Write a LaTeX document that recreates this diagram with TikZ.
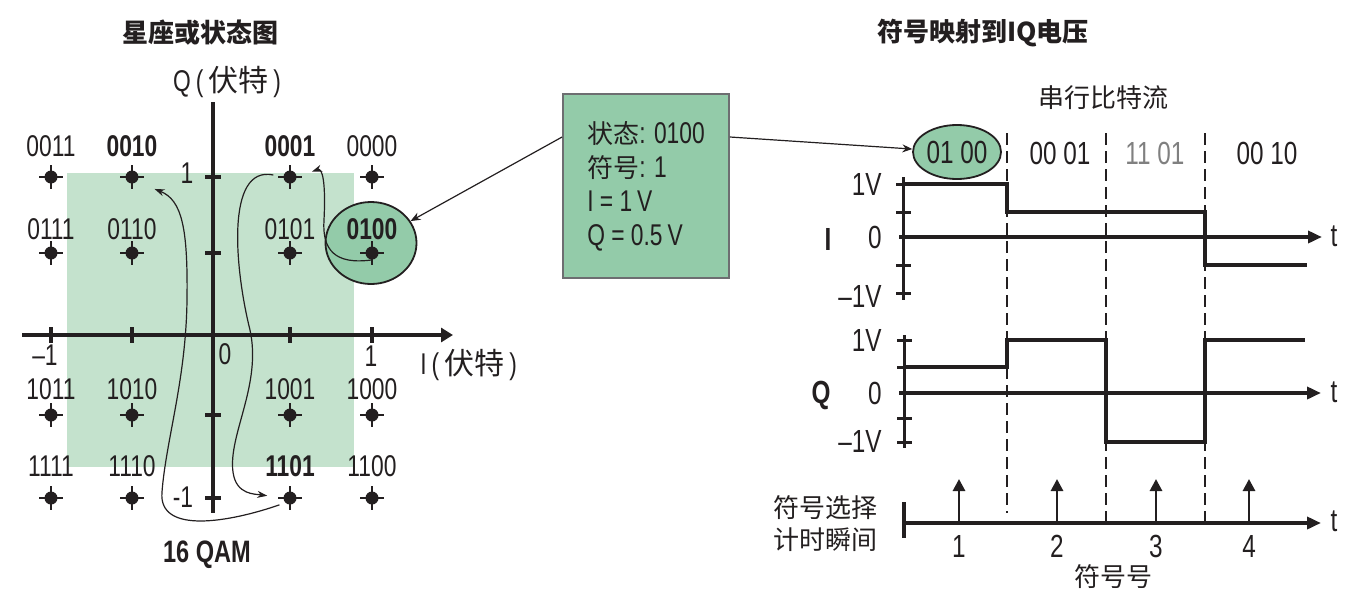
\documentclass[tikz,border=0pt]{standalone}
\usepackage{fontspec}
\setmainfont{Liberation Sans}[FakeStretch=0.76]
\newfontfamily\cjk{Noto Sans CJK SC}
\usetikzlibrary{arrows.meta,positioning,shapes.geometric}
\definecolor{qamLight}{HTML}{C4E2CD}
\definecolor{qamDark}{HTML}{93CBA9}
\definecolor{qamInk}{HTML}{231F20}
\definecolor{qamGrey}{HTML}{6D6E71}

\begin{document}
\begin{tikzpicture}[x=0.5pt, y=-0.5pt,
          every node/.style={text=qamInk, inner sep=0pt},
          lbl/.style={font=\fontsize{15}{17}\selectfont},
          vlbl/.style={font=\fontsize{16}{18}\selectfont},
          zh/.style={font=\cjk\fontsize{13}{16}\selectfont},
          ttl/.style={font=\cjk\bfseries\fontsize{13}{15}\selectfont},
          dot/.style={circle, fill=qamInk, minimum size=6.5pt},
          crossline/.style={draw=qamInk, line width=1pt},
          axisline/.style={draw=qamInk, line width=2pt},
          tickmark/.style={draw=qamInk, line width=1.5pt},
          sig/.style={draw=qamInk, line width=2.4pt},
          taxis/.style={draw=qamInk, line width=1.8pt, -{Triangle[length=7pt,width=6pt]}},
          arr/.style={draw=qamInk, line width=0.6pt, -{Stealth[length=5pt,width=4pt]}},
          curv/.style={draw=qamInk, line width=0.6pt, -{Stealth[length=5pt,width=3.5pt]}},
          dashsep/.style={draw=qamInk, line width=1.2pt, dash pattern=on 6pt off 3pt},
          impulse/.style={draw=qamInk, line width=1.4pt, -{Triangle[length=6pt,width=6pt]}}]
        \useasboundingbox (0,0) rectangle (1355,595);
        \fill[qamLight] (67,173) rectangle (354,467);
        \node[ttl] (t1) at (200,33) {星座或状态图};
        \node[ttl] (t2) at (983,33) {符号映射到IQ电压};
        \coordinate (qtop) at (213,102);
        \coordinate (qbot) at (213,513);
        \coordinate (ileft) at (22,335);
        \coordinate (iright) at (453,335);
        \draw[axisline] (qtop) -- (qbot);
        \draw[axisline, -{Triangle[length=6pt,width=7pt]}] (ileft) -- (iright);
        \foreach \x in {51,132,290,372}
          \draw[tickmark, line width=2pt] (\x,327) -- (\x,343);
        \foreach \y in {177,253,415,498}
          \draw[tickmark, line width=2pt] (205,\y) -- (221,\y);
        \node[lbl] (qlab) at (227,82) {Q\,(\,{\cjk 伏特}\,)};
        \node[lbl, anchor=west] (ilab) at (420,365) {I\,(\,{\cjk 伏特}\,)};
        \node[lbl] (q1) at (187,173) {1};
        \node[lbl] (qm1) at (183,497) {-1};
        \node[lbl] (o0) at (225,354) {0};
        \node[lbl] (im1) at (45,355) {–1};
        \node[lbl] (ip1) at (371,356) {1};
        \node[ellipse, draw=qamInk, line width=0.9pt, fill=qamDark,
          minimum width=45.5pt, minimum height=41pt] (bell) at (371,243) {};
        \foreach \c/\x/\y/\d/\f in {0011/51/177/6.5/\relax, 0010/132/177/6.5/\bfseries,
            0001/290/177/6.5/\bfseries, 0000/372/177/6.5/\relax,
            0111/51/253/3/\relax, 0110/132/253/3/\relax,
            0101/290/253/3/\relax, 0100/372/253/3/\bfseries,
            1011/51/415/4/\relax, 1010/132/415/4/\relax,
            1001/290/415/4/\relax, 1000/372/415/4/\relax,
            1111/51/498/7/\relax, 1110/132/498/7/\relax,
            1101/290/498/7/\bfseries, 1100/372/498/7/\relax} {
          \node[dot] (p\c) at (\x,\y) {};
          \draw[crossline] (p\c.center) +(-12,0) -- +(12,0)
            (p\c.center) +(0,-12) -- +(0,12);
          \node[lbl, above=\d pt of p\c] (l\c) {\f\c};
        }
        \node[font=\bfseries\fontsize{15.5}{17}\selectfont] (qam) at (207,555) {16 QAM};
        \draw[curv, shorten >=8pt] (p0100.south) .. controls (335,265) and (322,250) .. (324,220)
          .. controls (326,180) and (322,168) .. (p0001.east);
        \draw[curv, shorten <=5pt, shorten >=8pt] (p0001.west) .. controls (225,165) and (235,270) .. (250,330)
          .. controls (262,385) and (228,435) .. (233,472)
          .. controls (236,495) and (255,494) .. (p1101.west);
        \draw[curv, shorten <=3pt, shorten >=9.5pt] (p1101.south west) .. controls (230,522) and (158,535) .. (162,492)
          .. controls (166,440) and (186,380) .. (187,300)
          .. controls (188,228) and (182,200) .. (p0010.south east);
        \node[draw=qamGrey, line width=0.9pt, fill=qamDark, minimum width=83pt, minimum height=92pt,
          align=left, font=\fontsize{15}{17}\selectfont]
          (box) at (646,186) {{\cjk\fontsize{13}{17}\selectfont 状态}: 0100\\{\cjk\fontsize{13}{17}\selectfont 符号}: 1\\I = 1\,V\\Q = 0.5\,V};
        \node[ellipse, draw=qamInk, line width=0.9pt, fill=qamDark,
          minimum width=44pt, minimum height=27pt, vlbl] (sell) at (957,152) {01 00};
        \draw[arr] ([yshift=24.5pt]box.west) -- (bell);
        \draw[arr] ([yshift=24.5pt]box.east) -- (sell);
        \node[zh] (stream) at (1103,98) {串行比特流};
        \node[vlbl] (b2) at (1060,153) {00 01};
        \node[vlbl, text=gray] (b3) at (1155,153) {11 01};
        \node[vlbl] (b4) at (1267,153) {00 10};
        \foreach \x/\b [count=\k] in {1007/513, 1106/523, 1205/523} {
          \coordinate (d\k t) at (\x,133);
          \coordinate (d\k b) at (\x,\b);
          \draw[dashsep] (d\k t) -- (d\k b);
        }
        \coordinate (iax1) at (903,177);
        \coordinate (iax2) at (903,300);
        \coordinate (it1) at (899,237);
        \coordinate (it2) at (1322,237);
        \draw[tickmark] (iax1) -- (iax2);
        \foreach \y in {184,212,265,293}
          \draw[tickmark] (896,\y) -- (911,\y);
        \draw[taxis] (it1) -- (it2);
        \draw[sig] (903,184) -- (1007,184) -- (1007,212) -- (1205,212) -- (1205,265) -- (1307,265);
        \node[vlbl, anchor=east] (iv1) at (882,184) {1V};
        \node[vlbl, anchor=east] (iv0) at (882,237) {0};
        \node[vlbl, anchor=east] (ivm) at (882,296) {–1V};
        \node[vlbl] (ilbl) at (828,239) {\bfseries I};
        \node[vlbl] (itt) at (1334,236) {t};
        \coordinate (qax1) at (904,335);
        \coordinate (qax2) at (904,448);
        \coordinate (qt1) at (899,393);
        \coordinate (qt2) at (1321,393);
        \draw[tickmark] (qax1) -- (qax2);
        \foreach \y in {340,367,418,442}
          \draw[tickmark] (897,\y) -- (912,\y);
        \draw[taxis] (qt1) -- (qt2);
        \draw[sig] (904,367) -- (1007,367) -- (1007,340) -- (1106,340) -- (1106,442)
          -- (1205,442) -- (1205,340) -- (1305,340);
        \node[vlbl, anchor=east] (qv1) at (882,340) {1V};
        \node[vlbl, anchor=east] (qv0) at (882,393) {0};
        \node[vlbl, anchor=east] (qvm) at (882,441) {–1V};
        \node[vlbl] (qlbl) at (821,395) {\bfseries Q};
        \node[vlbl] (qtt) at (1334,392) {t};
        \coordinate (bax1) at (904,502);
        \coordinate (bax2) at (904,538);
        \coordinate (bt1) at (904,523);
        \coordinate (bt2) at (1321,523);
        \draw[tickmark, line width=2pt] (bax1) -- (bax2);
        \draw[taxis] (bt1) -- (bt2);
        \node[vlbl] (btt) at (1334,521) {t};
        \foreach \x [count=\k] in {959,1057,1156,1249} {
          \coordinate (s\k) at (\x,523);
          \coordinate (h\k) at (\x,479);
          \draw[impulse] (s\k) -- (h\k);
          \node[vlbl] (n\k) at (\x,546) {\k};
        }
        \node[zh, align=center, font=\cjk\fontsize{13}{16}\selectfont] (sel) at (825,524) {符号选择\\计时瞬间};
        \node[zh] (symno) at (1113,577) {符号号};
      \end{tikzpicture}
\end{document}
